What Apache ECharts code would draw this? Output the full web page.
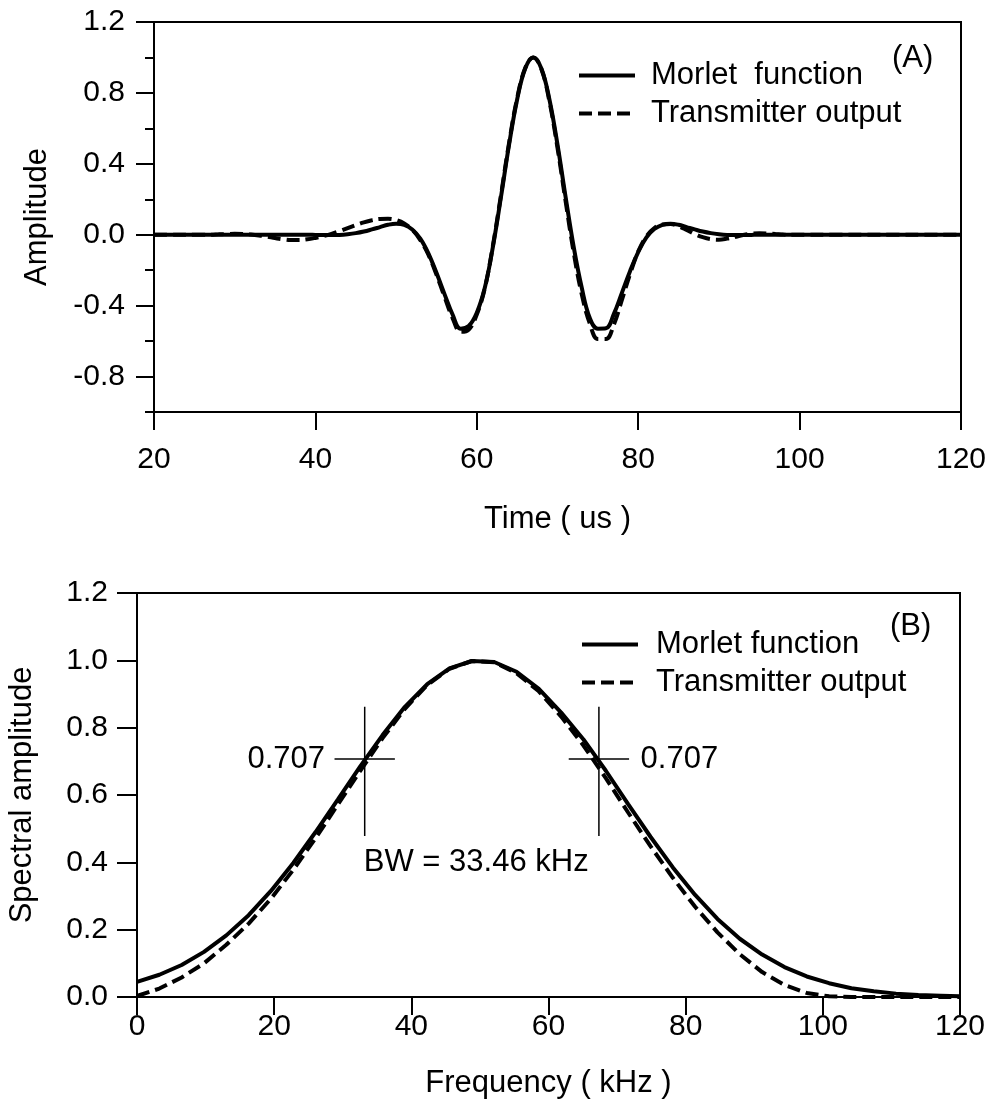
<!DOCTYPE html>
<html><head><meta charset="utf-8">
<script src="https://cdn.jsdelivr.net/npm/echarts@6/dist/echarts.min.js"></script>
<style>html,body{margin:0;padding:0;background:#fff}#c{width:992px;height:1108px}</style>
</head><body><div id="c"></div>
<script>
// ---------- data (panel A: time domain) ----------
const timeUs = [
 20,21,22,23,24,25,26,27,28,29,
 30,31,32,33,34,35,36,37,38,39,
 40,41,42,43,44,45,46,47,48,49,
 50,51,52,53,54,55,56,57,58,59,
 60,61,62,63,64,65,66,67,68,69,
 70,71,72,73,74,75,76,77,78,79,
 80,81,82,83,84,85,86,87,88,89,
 90,91,92,93,94,95,96,97,98,99,
 100,101,102,103,104,105,106,107,108,109,
 110,111,112,113,114,115,116,117,118,119,120];
const morletTime = [
 0,0,0,0,0,0,0,0,0,0,
 0,0,0,0,0,0,0,0,0,0,
 -0.001,-0.002,-0.002,-0.001,0.003,0.009,0.018,0.030,0.043,0.056,
 0.062,0.056,0.030,-0.022,-0.105,-0.215,-0.335,-0.450,-0.530,-0.515,
 -0.440,-0.298,-0.067,0.214,0.508,0.763,0.938,1.000,0.938,0.763,
 0.508,0.214,-0.067,-0.298,-0.470,-0.530,-0.528,-0.445,-0.325,-0.204,
 -0.098,-0.016,0.032,0.056,0.062,0.056,0.043,0.030,0.018,0.009,
 0.003,-0.001,-0.002,-0.002,-0.001,0,0,0,0,0,
 0,0,0,0,0,0,0,0,0,0,
 0,0,0,0,0,0,0,0,0,0,0];
const transmitterTime = [
 0,0,0,0,0,0,0,0,0.002,0.004,
 0.005,0.004,0.001,-0.004,-0.011,-0.019,-0.026,-0.030,-0.030,-0.026,
 -0.018,-0.008,0.005,0.020,0.037,0.054,0.070,0.082,0.089,0.090,
 0.083,0.064,0.028,-0.030,-0.112,-0.225,-0.350,-0.470,-0.548,-0.535,
 -0.450,-0.300,-0.060,0.225,0.518,0.770,0.940,1.000,0.935,0.752,
 0.490,0.190,-0.098,-0.335,-0.500,-0.588,-0.588,-0.505,-0.365,-0.220,
 -0.095,-0.010,0.038,0.058,0.060,0.048,0.027,0.004,-0.014,-0.025,
 -0.028,-0.022,-0.012,-0.002,0.005,0.008,0.007,0.004,0.001,0,
 0,0,0,0,0,0,0,0,0,0,
 0,0,0,0,0,0,0,0,0,0,0];
const ampMajorTicks = [-0.8,-0.4,0,0.4,0.8,1.2];

// ---------- data (panel B: spectrum) ----------
const freqKHz = [0,3.26,6.51,9.77,13.02,16.28,19.53,22.79,26.04,29.30,
 32.55,35.81,39.06,42.32,45.57,48.83,52.08,55.34,58.59,61.85,
 65.10,68.36,71.61,74.87,78.13,81.38,84.64,87.89,91.15,94.40,
 97.66,100.91,104.17,107.42,110.68,113.93,117.19,120];
const morletSpec = [0.045,0.066,0.095,0.134,0.183,0.243,0.315,0.398,0.490,0.587,
 0.685,0.778,0.862,0.929,0.976,0.998,0.995,0.966,0.915,0.845,
 0.765,0.672,0.573,0.476,0.385,0.303,0.232,0.173,0.126,0.089,
 0.061,0.041,0.026,0.017,0.010,0.006,0.004,0.002];
const transmitterSpec = [0.003,0.025,0.058,0.100,0.155,0.218,0.292,0.378,0.472,0.572,
 0.672,0.769,0.856,0.927,0.975,0.998,0.994,0.962,0.908,0.833,
 0.747,0.650,0.548,0.448,0.354,0.268,0.192,0.127,0.074,0.036,
 0.012,0.002,0,0,0,0,0,0];
const halfPowerFreqs = [33.2, 67.35];
const halfPowerLevel = 0.707;
const crossHalfSpan = 4.4;          // kHz, half length of horizontal marker
const crossVertical = [0.478, 0.862];
const bwLabel = 'BW = 33.46 kHz';
const bwAnchor = [33.0, 0.40];

// ---------- chart ----------
const FONT = "'Liberation Sans', Arial, Helvetica, sans-serif";
const BLACK = '#000';
const pairs = (xs, ys) => xs.map((x, i) => [x, ys[i]]);
const fmt1 = v => Number(v).toFixed(1);

const axisLineStyle = { show: true, onZero: false, lineStyle: { color: BLACK, width: 2 } };
const tickStyle = len => ({ show: true, inside: false, length: len, lineStyle: { color: BLACK, width: 2 } });
const labelStyle = (margin) => ({ color: BLACK, fontSize: 30, fontFamily: FONT, margin: margin });
const nameStyle = { color: BLACK, fontSize: 31, fontFamily: FONT };

const series = [];
// Panel A
series.push({ name: 'Transmitter output', type: 'line', xAxisIndex: 0, yAxisIndex: 0,
  data: pairs(timeUs, transmitterTime), symbol: 'none', showSymbol: false, smooth: 0.4,
  lineStyle: { color: BLACK, width: 4, type: [13, 6] }, itemStyle: { color: BLACK }, z: 2, silent: true });
series.push({ name: 'Morlet  function', type: 'line', xAxisIndex: 0, yAxisIndex: 0,
  data: pairs(timeUs, morletTime), symbol: 'none', showSymbol: false, smooth: 0.4,
  lineStyle: { color: BLACK, width: 4, type: 'solid' }, itemStyle: { color: BLACK }, z: 3, silent: true });
// Panel B
series.push({ name: 'Transmitter output', type: 'line', xAxisIndex: 1, yAxisIndex: 2,
  data: pairs(freqKHz, transmitterSpec), symbol: 'none', showSymbol: false,
  lineStyle: { color: BLACK, width: 4, type: [13, 6] }, itemStyle: { color: BLACK }, z: 3, silent: true });
series.push({ name: 'Morlet function', type: 'line', xAxisIndex: 1, yAxisIndex: 2,
  data: pairs(freqKHz, morletSpec), symbol: 'none', showSymbol: false,
  lineStyle: { color: BLACK, width: 4, type: 'solid' }, itemStyle: { color: BLACK }, z: 2, silent: true });
// half-power crosses
halfPowerFreqs.forEach(f => {
  series.push({ type: 'line', xAxisIndex: 1, yAxisIndex: 2, symbol: 'none', silent: true, z: 4,
    data: [[f - crossHalfSpan, halfPowerLevel], [f + crossHalfSpan, halfPowerLevel]],
    lineStyle: { color: BLACK, width: 1.5 } });
  series.push({ type: 'line', xAxisIndex: 1, yAxisIndex: 2, symbol: 'none', silent: true, z: 4,
    data: [[f, crossVertical[0]], [f, crossVertical[1]]],
    lineStyle: { color: BLACK, width: 1.5 } });
});
// text annotations
const annoLabel = { show: true, color: BLACK, fontSize: 31, fontFamily: FONT, opacity: 1 };
series.push({ type: 'scatter', xAxisIndex: 1, yAxisIndex: 2, symbolSize: 1, silent: true,
  itemStyle: { color: 'rgba(0,0,0,0)', opacity: 1 },
  data: [
    { value: [halfPowerFreqs[0] - crossHalfSpan, halfPowerLevel],
      label: Object.assign({}, annoLabel, { position: 'left', distance: 9, formatter: String(halfPowerLevel) }) },
    { value: [halfPowerFreqs[1] + crossHalfSpan, halfPowerLevel],
      label: Object.assign({}, annoLabel, { position: 'right', distance: 11, formatter: String(halfPowerLevel) }) },
    { value: bwAnchor,
      label: Object.assign({}, annoLabel, { position: 'right', distance: 0, formatter: bwLabel }) }
  ] });

const legendCommon = {
  orient: 'vertical', itemWidth: 56, itemHeight: 14, itemGap: 7, padding: 0, selectedMode: false,
  itemStyle: { color: 'rgba(0,0,0,0)', borderWidth: 0, opacity: 0 },
  lineStyle: { width: 4, color: BLACK }
};

const option = {
  animation: false,
  backgroundColor: '#fff',
  textStyle: { fontFamily: FONT },
  title: [
    { text: '(A)', left: 892, top: 43, padding: 0, textStyle: { fontSize: 31, fontWeight: 'normal', color: BLACK, fontFamily: FONT } },
    { text: '(B)', left: 890, top: 611, padding: 0, textStyle: { fontSize: 31, fontWeight: 'normal', color: BLACK, fontFamily: FONT } }
  ],
  legend: [
    Object.assign({}, legendCommon, { left: 577, top: 60, data: ['Morlet  function', 'Transmitter output'],
      textStyle: { color: BLACK, fontSize: 31, fontFamily: FONT, padding: [0, 0, 0, 11] } }),
    Object.assign({}, legendCommon, { left: 580, top: 629, data: ['Morlet function', 'Transmitter output'],
      textStyle: { color: BLACK, fontSize: 31, fontFamily: FONT, padding: [0, 0, 0, 13] } })
  ],
  grid: [
    { left: 154, top: 22, width: 807, height: 390, show: true, borderColor: BLACK, borderWidth: 2,
      backgroundColor: 'transparent', containLabel: false, outerBoundsMode: 'none' },
    { left: 137, top: 593, width: 823, height: 404, show: true, borderColor: BLACK, borderWidth: 2,
      backgroundColor: 'transparent', containLabel: false, outerBoundsMode: 'none' }
  ],
  xAxis: [
    { type: 'value', gridIndex: 0, min: 20, max: 120, interval: 20,
      axisLine: axisLineStyle, axisTick: tickStyle(18), axisLabel: labelStyle(33), splitLine: { show: false },
      name: 'Time ( us )', nameLocation: 'middle', nameGap: 92, nameTextStyle: nameStyle },
    { type: 'value', gridIndex: 1, min: 0, max: 120, interval: 20,
      axisLine: axisLineStyle, axisTick: tickStyle(18), axisLabel: labelStyle(15), splitLine: { show: false },
      name: 'Frequency ( kHz )', nameLocation: 'middle', nameGap: 71, nameTextStyle: nameStyle }
  ],
  yAxis: [
    { type: 'value', gridIndex: 0, min: -1.0, max: 1.2, interval: 0.2,
      axisLine: axisLineStyle, axisTick: tickStyle(9), axisLabel: { show: false }, splitLine: { show: false },
      name: 'Amplitude', nameLocation: 'middle', nameGap: 101, nameRotate: 90, nameTextStyle: nameStyle },
    { type: 'value', gridIndex: 0, min: -1.0, max: 1.2, position: 'left',
      axisLine: { show: false, onZero: false },
      axisTick: Object.assign(tickStyle(18), { customValues: ampMajorTicks }),
      axisLabel: Object.assign(labelStyle(29), { customValues: ampMajorTicks, formatter: fmt1 }),
      splitLine: { show: false } },
    { type: 'value', gridIndex: 1, min: 0, max: 1.2, interval: 0.2,
      axisLine: axisLineStyle, axisTick: tickStyle(20),
      axisLabel: Object.assign(labelStyle(29), { formatter: fmt1 }), splitLine: { show: false },
      name: 'Spectral amplitude', nameLocation: 'middle', nameGap: 99, nameRotate: 90, nameTextStyle: nameStyle }
  ],
  series: series
};

const chart = echarts.init(document.getElementById('c'), null, { renderer: 'canvas' });
chart.setOption(option);
</script>
</body></html>
